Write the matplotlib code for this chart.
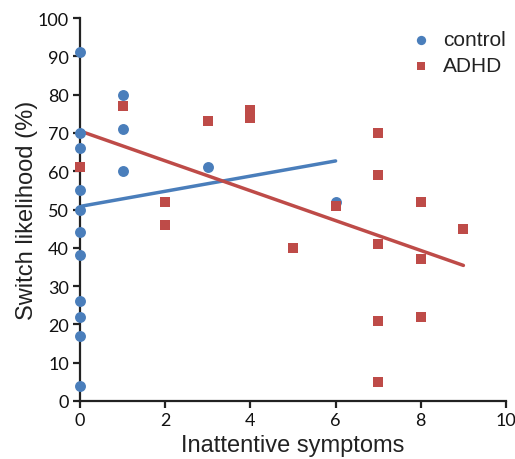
import matplotlib
matplotlib.use("Agg")
import matplotlib.pyplot as plt
import numpy as np

# Data
control_x = [0, 0, 0, 0, 0, 0, 0, 0, 0, 0, 0, 1, 1, 1, 3, 6]
control_y = [91, 70, 66, 55, 50, 44, 38, 26, 22, 17, 4, 80, 71, 60, 61, 52]
adhd_x = [0, 1, 2, 2, 3, 4, 4, 5, 6, 7, 7, 7, 7, 7, 8, 8, 8, 9]
adhd_y = [61, 77, 52, 46, 73, 76, 74, 40, 51, 70, 59, 41, 21, 5, 52, 37, 22, 45]

# Trend lines (endpoints x range, intercept, slope as read)
control_fit_x = [0, 6]
control_fit = (50.8, 1.98)   # intercept, slope
adhd_fit_x = [0, 9]
adhd_fit = (70.5, -3.9)

blue = "#4A7EBB"
red = "#BE4B48"

fig = plt.figure(figsize=(5.15, 4.6), dpi=100)
ax = fig.add_axes([80/515, 1 - 402/460, (506-80)/515, (402-19)/460])

ax.scatter(control_x, control_y, s=62, marker="o", color=blue, zorder=3,
           linewidths=0, label="control", clip_on=False)
ax.scatter(adhd_x, adhd_y, s=55, marker="s", color=red, zorder=4,
           linewidths=0, label="ADHD", clip_on=False)

cx = np.array(control_fit_x, dtype=float)
ax.plot(cx, control_fit[0] + control_fit[1]*cx, color=blue, lw=2.5, zorder=2,
        solid_capstyle="round")
axx = np.array(adhd_fit_x, dtype=float)
ax.plot(axx, adhd_fit[0] + adhd_fit[1]*axx, color=red, lw=2.5, zorder=2,
        solid_capstyle="round")

ax.set_xlim(0, 10)
ax.set_ylim(0, 100)
ax.set_xticks(range(0, 11, 2))
ax.set_yticks(range(0, 101, 10))
for s in ["top", "right"]:
    ax.spines[s].set_visible(False)
for s in ["left", "bottom"]:
    ax.spines[s].set_linewidth(1.6)
    ax.spines[s].set_color("#222222")
for lab in ax.get_xticklabels() + ax.get_yticklabels():
    lab.set_family(["Lato", "DejaVu Sans"])
    lab.set_color("#111111")
ax.tick_params(direction="out", length=5, width=1.6, color="#222222",
               labelsize=13, pad=3)

ax.set_xlabel("Inattentive symptoms", fontsize=17, family="Liberation Sans",
              labelpad=4, color="#222222")
ax.set_ylabel("Switch likelihood (%)", fontsize=17, family="Liberation Sans",
              labelpad=0, color="#222222")

leg = ax.legend(loc="upper right", bbox_to_anchor=(1.02, 0.99), frameon=False,
                prop={"family": "Liberation Sans", "size": 15},
                handletextpad=0.1, labelspacing=0.35, borderaxespad=0.0,
                markerscale=0.85)
for t in leg.get_texts():
    t.set_color("#222222")

fig.savefig("out.png", dpi=100)
